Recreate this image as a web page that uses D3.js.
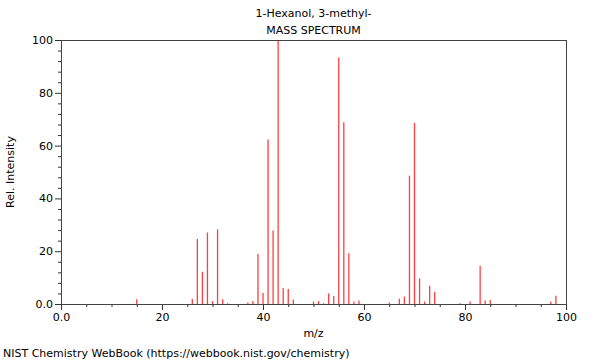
<!DOCTYPE html>
<html><head><meta charset="utf-8">
<script src="https://cdn.jsdelivr.net/npm/d3@7"></script>
<style>body{margin:0;background:#fff;} text{font-family:"DejaVu Sans",sans-serif;}</style>
</head><body>
<svg id="c" width="600" height="360"></svg>
<script>
const mz =        [15, 26, 27, 28, 29, 30, 31, 32, 33, 37, 38, 39, 40, 41, 42, 43, 44, 45, 46, 50, 51, 52, 53, 54, 55, 56, 57, 58, 59, 65, 67, 68, 69, 70, 71, 72, 73, 74, 79, 81, 83, 84, 85, 97, 98];
const intensity = [1.8, 1.9, 24.6, 12.2, 27.1, 1.1, 28.3, 1.8, 0.3, 0.6, 1.1, 18.9, 4.2, 62.3, 27.8, 100, 6.1, 5.7, 1.7, 0.9, 1.1, 0.3, 4.0, 3.0, 93.4, 68.8, 19.2, 0.9, 1.3, 0.6, 2.0, 2.8, 48.6, 68.6, 9.7, 0.9, 6.9, 4.6, 0.3, 0.9, 14.5, 1.3, 1.5, 0.9, 3.1];
const xTicks = [0, 20, 40, 60, 80, 100];
const xTickLabels = ["0.0", "20", "40", "60", "80", "100"];
const yTicks = [0, 20, 40, 60, 80, 100];
const yTickLabels = ["0.0", "20", "40", "60", "80", "100"];
const title1 = "1-Hexanol, 3-methyl-";
const title2 = "MASS SPECTRUM";

const svg = d3.select("#c");
const L = 61, R = 566, T = 40, B = 304;
const x = d3.scaleLinear().domain([0, 100]).range([L, R]);
const y = d3.scaleLinear().domain([0, 100]).range([B, T]);
const fs = 11;

// bars
svg.append("g").selectAll("line").data(mz).join("line")
  .attr("x1", (d) => x(d)).attr("x2", (d) => x(d))
  .attr("y1", y(0)).attr("y2", (d, i) => y(intensity[i]))
  .attr("stroke", "#ff0000").attr("stroke-width", 1.3).attr("opacity", 0.75);

// minor ticks
const xMinor = d3.range(0, 101, 5).filter(v => v % 20 !== 0);
const yMinor = d3.range(0, 101, 4).filter(v => v % 20 !== 0);
const xa = svg.append("g").attr("transform", `translate(0,${B})`);
xa.call(d3.axisBottom(x).tickValues(xMinor).tickSize(3).tickFormat(""));
const xb = svg.append("g").attr("transform", `translate(0,${B})`);
xb.call(d3.axisBottom(x).tickValues(xTicks).tickSize(6).tickPadding(3).tickFormat((d, i) => xTickLabels[i]));
const ya = svg.append("g").attr("transform", `translate(${L},0)`);
ya.call(d3.axisLeft(y).tickValues(yMinor).tickSize(3).tickFormat(""));
const yb = svg.append("g").attr("transform", `translate(${L},0)`);
yb.call(d3.axisLeft(y).tickValues(yTicks).tickSize(6).tickPadding(2).tickFormat((d, i) => yTickLabels[i]));
svg.selectAll(".domain").remove();
svg.selectAll(".tick line").attr("stroke", "#333");
svg.selectAll(".tick text").attr("font-size", fs).attr("font-family", "DejaVu Sans").attr("fill", "#000");

// frame
svg.append("rect").attr("x", L + 0.5).attr("y", T + 0.5).attr("width", R - L).attr("height", B - T)
  .attr("fill", "none").attr("stroke", "#444").attr("stroke-width", 1);

// titles
svg.append("text").attr("x", (L + R) / 2).attr("y", 17).attr("text-anchor", "middle").attr("font-size", fs).text(title1);
svg.append("text").attr("x", (L + R) / 2).attr("y", 34).attr("text-anchor", "middle").attr("font-size", fs).text(title2);
svg.append("text").attr("x", (L + R) / 2).attr("y", 337).attr("text-anchor", "middle").attr("font-size", fs).text("m/z");
svg.append("text").attr("transform", `translate(14,${(T + B) / 2}) rotate(-90)`).attr("text-anchor", "middle").attr("font-size", fs).text("Rel. Intensity");
svg.append("text").attr("x", 3).attr("y", 357).attr("font-size", fs).text("NIST Chemistry WebBook (https://webbook.nist.gov/chemistry)");
</script>
</body></html>
